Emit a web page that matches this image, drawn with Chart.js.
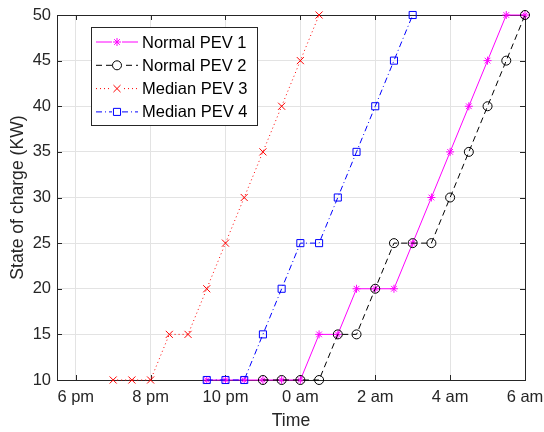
<!DOCTYPE html>
<html>
<head>
<meta charset="utf-8">
<script src="https://cdn.jsdelivr.net/npm/chart.js@4.4.1/dist/chart.umd.min.js"></script>
<style>
  body { margin: 0; background: #fff; }
  #wrap { width: 544px; height: 432px; }
</style>
</head>
<body>
<div id="wrap"><canvas id="socChart" width="544" height="432"></canvas></div>
<script>
// x in hours (24 = 0 am), y = state of charge (KW)
const tickValues = [18, 20, 22, 24, 26, 28, 30];
const tickLabels = ['6 pm', '8 pm', '10 pm', '0 am', '2 am', '4 am', '6 am'];

const seriesNames = ['Normal PEV 1', 'Normal PEV 2', 'Median PEV 3', 'Median PEV 4'];

const pev1Hours = [21.5, 22, 22.5, 23, 23.5, 24, 24.5, 25, 25.5, 26, 26.5, 27, 27.5, 28, 28.5, 29, 29.5, 30];
const pev1Charge = [10, 10, 10, 10, 10, 10, 15, 15, 20, 20, 20, 25, 30, 35, 40, 45, 50, 50];

const pev2Hours = [23, 23.5, 24, 24.5, 25, 25.5, 26, 26.5, 27, 27.5, 28, 28.5, 29, 29.5, 30];
const pev2Charge = [10, 10, 10, 10, 15, 15, 20, 25, 25, 25, 30, 35, 40, 45, 50];

const pev3Hours = [19, 19.5, 20, 20.5, 21, 21.5, 22, 22.5, 23, 23.5, 24, 24.5];
const pev3Charge = [10, 10, 10, 15, 15, 20, 25, 30, 35, 40, 45, 50];

const pev4Hours = [21.5, 22, 22.5, 23, 23.5, 24, 24.5, 25, 25.5, 26, 26.5, 27];
const pev4Charge = [10, 10, 10, 15, 20, 25, 25, 30, 35, 40, 45, 50];

const FONT = '"Liberation Sans", Arial, sans-serif';
const AXIS = '#262626';

function pts(xs, ys) {
    return xs.map((x, i) => ({ x: x, y: ys[i] }));
}

// box + inward tick marks like the original
const boxPlugin = {
    id: 'boxPlugin',
    beforeDatasetsDraw(chart) {
        const c = chart.ctx;
        const a = chart.chartArea;
        const xs = chart.scales.x, ys = chart.scales.y;
        c.save();
        c.strokeStyle = AXIS;
        c.lineWidth = 1;
        c.beginPath();
        tickValues.forEach(v => {
            const px = Math.round(xs.getPixelForValue(v)) + 0.5;
            c.moveTo(px, a.bottom); c.lineTo(px, a.bottom - 5);
            c.moveTo(px, a.top); c.lineTo(px, a.top + 5);
        });
        ys.ticks.forEach(t => {
            const py = Math.round(ys.getPixelForValue(t.value)) + 0.5;
            c.moveTo(a.left, py); c.lineTo(a.left + 5, py);
            c.moveTo(a.right, py); c.lineTo(a.right - 5, py);
        });
        c.stroke();
        c.strokeRect(Math.round(a.left) + 0.5, Math.round(a.top) + 0.5,
            Math.round(a.right - a.left), Math.round(a.bottom - a.top));
        c.restore();
    }
};

// legend drawn inside the plot, top-left
const legendPlugin = {
    id: 'legendPlugin',
    afterDraw(chart) {
        const c = chart.ctx;
        const x0 = 91, y0 = 27, w = 166, h = 98;
        c.save();
        c.fillStyle = '#fff';
        c.fillRect(x0, y0, w, h);
        c.strokeStyle = AXIS;
        c.lineWidth = 1;
        c.strokeRect(x0 + 0.5, y0 + 0.5, w, h);
        chart.data.datasets.forEach((ds, i) => {
            const y = 42 + i * 23.3;
            c.strokeStyle = ds.borderColor;
            c.lineWidth = 1;
            c.setLineDash(ds.borderDash || []);
            c.beginPath();
            c.moveTo(96, y); c.lineTo(138, y);
            c.stroke();
            c.setLineDash([]);
            // clear the line under the hollow marker, then draw it
            c.fillStyle = '#fff';
            c.fillRect(112, y - 4, 10, 8);
            c.fillStyle = 'rgba(0,0,0,0)';
            Chart.helpers.drawPoint(c, {
                pointStyle: ds.pointStyle,
                radius: ds.pointRadius,
                rotation: 0,
                borderWidth: 1
            }, 117, y);
            c.fillStyle = '#000';
            c.font = '16.5px ' + FONT;
            c.textBaseline = 'middle';
            c.fillText(ds.label, 142, y + 1);
        });
        c.restore();
    }
};

function makeSet(i, xs, ys, color, dash, style, r) {
    return {
        label: seriesNames[i],
        data: pts(xs, ys),
        borderColor: color,
        backgroundColor: 'rgba(0,0,0,0)',
        pointBorderColor: color,
        pointBackgroundColor: 'rgba(0,0,0,0)',
        borderWidth: 1,
        borderDash: dash,
        pointStyle: style,
        pointRadius: r,
        pointBorderWidth: 1,
        tension: 0,
        clip: false,
        order: 4 - i
    };
}

const ctx = document.getElementById('socChart').getContext('2d');
const socChart = new Chart(ctx, {
    type: 'line',
    data: {
        datasets: [
            makeSet(0, pev1Hours, pev1Charge, '#ff00ff', [], 'star', 4),
            makeSet(1, pev2Hours, pev2Charge, '#000000', [6, 4], 'circle', 4.5),
            makeSet(2, pev3Hours, pev3Charge, '#ff0000', [1, 3], 'crossRot', 5),
            makeSet(3, pev4Hours, pev4Charge, '#0000ff', [6, 3, 1, 3], 'rect', 5)
        ]
    },
    options: {
        responsive: false,
        animation: false,
        layout: { padding: { top: 15, right: 19, left: 0, bottom: 0 } },
        plugins: {
            legend: { display: false },
            tooltip: { enabled: false }
        },
        scales: {
            x: {
                type: 'linear',
                min: 17.5,
                max: 30,
                afterBuildTicks: s => { s.ticks = tickValues.map(v => ({ value: v })); },
                afterFit: s => { s.height = 52; s.paddingLeft = 0; s.paddingRight = 0; },
                ticks: {
                    callback: v => tickLabels[tickValues.indexOf(v)],
                    color: AXIS,
                    font: { family: FONT, size: 16.5 },
                    padding: 8,
                    maxRotation: 0,
                    autoSkip: false
                },
                grid: { color: '#e3e3e3', drawTicks: false },
                border: { display: false },
                title: {
                    display: true,
                    text: 'Time',
                    color: AXIS,
                    font: { family: FONT, size: 17.6 },
                    padding: { top: 4, bottom: 0 }
                }
            },
            y: {
                min: 10,
                max: 50,
                afterFit: s => { s.width = 57; s.paddingTop = 0; s.paddingBottom = 0; },
                ticks: {
                    stepSize: 5,
                    color: AXIS,
                    font: { family: FONT, size: 16.5 },
                    padding: 6
                },
                grid: { color: '#e3e3e3', drawTicks: false },
                border: { display: false },
                title: {
                    display: true,
                    text: 'State of charge (KW)',
                    color: AXIS,
                    font: { family: FONT, size: 17.6 },
                    padding: { top: 8, bottom: 0 }
                }
            }
        }
    },
    plugins: [boxPlugin, legendPlugin]
});
</script>
</body>
</html>
